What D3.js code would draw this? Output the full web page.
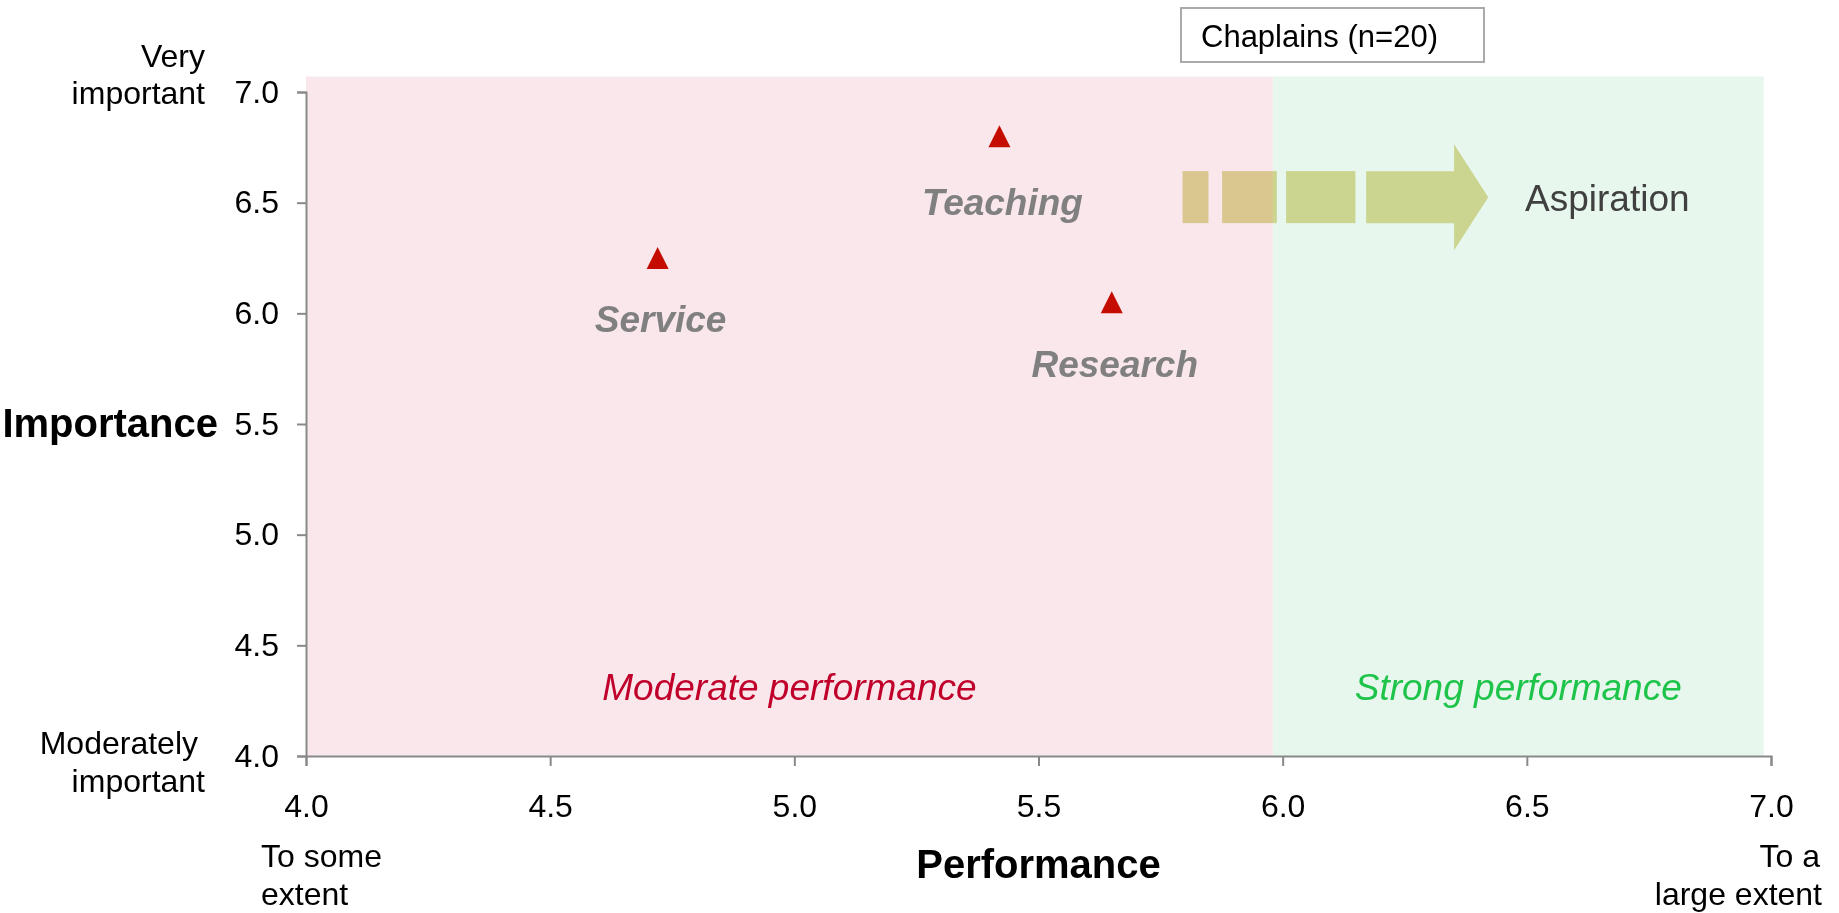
<!DOCTYPE html>
<html>
<head>
<meta charset="utf-8">
<script src="https://cdn.jsdelivr.net/npm/d3@7"></script>
<style>
	body { margin: 0; background: #fff; }
	svg { display: block; font-family: 'Liberation Sans', Arial, sans-serif; }
	.axis path, .axis line { stroke: #898989; stroke-width: 2; }
	.axis text { font-size: 32px; fill: #000; }
</style>
</head>
<body>
<svg id="chart"></svg>
<script>
// data
const categories = ['Service', 'Teaching', 'Research'];
const performance = [4.72, 5.42, 5.65];
const importance = [6.25, 6.80, 6.05];
const xTicks = [4.0, 4.5, 5.0, 5.5, 6.0, 6.5, 7.0];
const yTicks = [4.0, 4.5, 5.0, 5.5, 6.0, 6.5, 7.0];
const zoneNames = ['Moderate performance', 'Strong performance'];
const zoneBounds = [[4.0, 5.98], [5.98, 6.985]];
const zoneTop = 7.07;
// dashed aspiration arrow pieces (performance units)
const arrowDashes = [[5.795, 5.848], [5.876, 5.988], [6.007, 6.149]];
const arrowBody = [6.171, 6.351];
const arrowTip = 6.421;
const arrowLevel = 6.525;

const fullWidth = 1839;
const fullHeight = 913;
const svg = d3.select('#chart').attr('width', fullWidth).attr('height', fullHeight);

const x = d3.scaleLinear().domain([4, 7]).range([306, 1771]);
const y = d3.scaleLinear().domain([4, 7]).range([756, 92]);

const zoneFill = ['#f9e7eb', '#e7f7ed'];
const zoneText = ['#c0002a', '#1ec449'];

// background zones
svg.selectAll('rect.zone')
	.data(zoneBounds)
	.join('rect')
	.attr('class', 'zone')
	.attr('x', d => x(d[0]))
	.attr('width', d => x(d[1]) - x(d[0]))
	.attr('y', y(zoneTop))
	.attr('height', y(4) - y(zoneTop))
	.attr('fill', (d, i) => zoneFill[i]);

svg.selectAll('text.zone-label')
	.data(zoneNames)
	.join('text')
	.attr('class', 'zone-label')
	.attr('x', (d, i) => (x(zoneBounds[i][0]) + x(zoneBounds[i][1])) / 2)
	.attr('y', 700)
	.attr('text-anchor', 'middle')
	.style('font-size', '37px')
	.style('font-style', 'italic')
	.attr('fill', (d, i) => zoneText[i])
	.text(d => d);

// aspiration arrow
const arrowG = svg.append('g').style('mix-blend-mode', 'multiply');
const arrowFill = '#e0dc9b';
const bodyHalf = 26, headHalf = 53;
arrowG.selectAll('rect')
	.data(arrowDashes)
	.join('rect')
	.attr('x', d => x(d[0]))
	.attr('width', d => x(d[1]) - x(d[0]))
	.attr('y', y(arrowLevel) - bodyHalf)
	.attr('height', bodyHalf * 2)
	.attr('fill', arrowFill);
const ay = y(arrowLevel);
arrowG.append('path')
	.attr('d', `M${x(arrowBody[0])},${ay - bodyHalf}H${x(arrowBody[1])}V${ay - headHalf}L${x(arrowTip)},${ay}L${x(arrowBody[1])},${ay + headHalf}V${ay + bodyHalf}H${x(arrowBody[0])}Z`)
	.attr('fill', arrowFill);
svg.append('text')
	.attr('x', 1525)
	.attr('y', y(arrowLevel) + 14)
	.style('font-size', '37px')
	.attr('fill', '#404040')
	.text('Aspiration');

// axes
const yAxis = d3.axisLeft(y).tickValues(yTicks).tickFormat(d3.format('.1f'))
	.tickSize(9).tickPadding(18);
svg.append('g').attr('class', 'axis')
	.attr('transform', `translate(${x(4)},0)`)
	.call(yAxis);

const xAxis = d3.axisBottom(x).tickValues(xTicks).tickFormat(d3.format('.1f'))
	.tickSize(10).tickPadding(28);
svg.append('g').attr('class', 'axis')
	.attr('transform', `translate(0,${y(4)})`)
	.call(xAxis);

// points
const triW = 22, triH = 22;
const triPath = `M0,${-triH / 2}L${triW / 2},${triH / 2}L${-triW / 2},${triH / 2}Z`;
const labelDrop = [74, 79, 75];
const points = categories.map((c, i) => ({ name: c, perf: performance[i], imp: importance[i], drop: labelDrop[i] }));

svg.selectAll('path.pt')
	.data(points)
	.join('path')
	.attr('class', 'pt')
	.attr('d', triPath)
	.attr('transform', d => `translate(${x(d.perf)},${y(d.imp)})`)
	.attr('fill', '#c40d00');

svg.selectAll('text.pt-label')
	.data(points)
	.join('text')
	.attr('class', 'pt-label')
	.attr('x', d => x(d.perf) + 3)
	.attr('y', d => y(d.imp) + d.drop)
	.attr('text-anchor', 'middle')
	.style('font-size', '37px')
	.style('font-weight', 'bold')
	.style('font-style', 'italic')
	.attr('fill', '#808080')
	.text(d => d.name);

// axis titles and end notes
svg.append('text')
	.attr('x', 218).attr('y', 437)
	.attr('text-anchor', 'end')
	.style('font-size', '40px').style('font-weight', 'bold')
	.text('Importance');
svg.append('text')
	.attr('x', (x(4) + x(7)) / 2).attr('y', 878)
	.attr('text-anchor', 'middle')
	.style('font-size', '40px').style('font-weight', 'bold')
	.text('Performance');

function multiline(lines, xs, baselines, anchor) {
	const t = svg.append('text')
		.attr('text-anchor', anchor)
		.style('font-size', '32px')
		.attr('fill', '#000');
	lines.forEach((s, i) => t.append('tspan').attr('x', xs[i]).attr('y', baselines[i]).text(s));
}
multiline(['Very', 'important'], [205, 205], [67, 104], 'end');
multiline(['Moderately', 'important'], [198, 205], [754, 792], 'end');
multiline(['To some', 'extent'], [261, 261], [867, 905], 'start');
multiline(['To a', 'large extent'], [1820, 1822], [867, 905], 'end');

// legend box
svg.append('rect')
	.attr('x', 1181).attr('y', 8).attr('width', 303).attr('height', 54)
	.attr('fill', '#fff').attr('stroke', '#aaaaaa').attr('stroke-width', 2);
svg.append('text')
	.attr('x', 1201).attr('y', 47)
	.style('font-size', '31px')
	.text('Chaplains (n=20)');
</script>
</body>
</html>
